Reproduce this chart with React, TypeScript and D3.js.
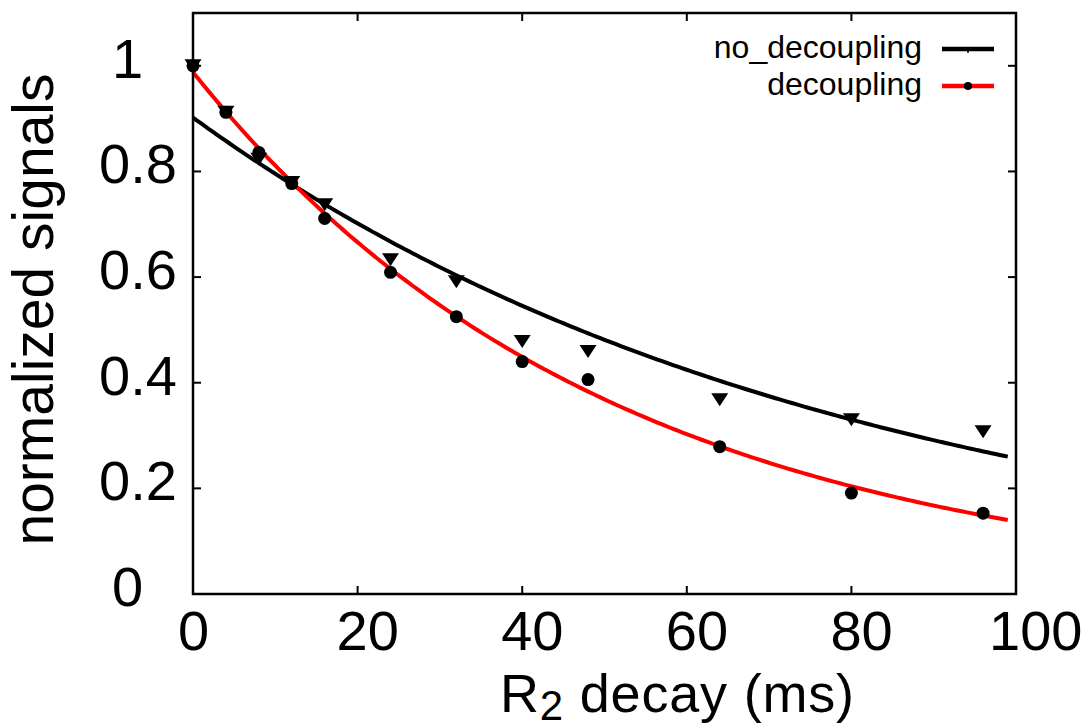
import React from "react";
import * as d3 from "d3";

const W = 1087;
const H = 725;

// data
const timesMs = [0, 4, 8, 12, 16, 24, 32, 40, 48, 64, 80, 96];
const noDecoupling = [1.0, 0.912, 0.823, 0.779, 0.737, 0.633, 0.591, 0.478, 0.459, 0.368, 0.33, 0.307];
const decoupling = [1.0, 0.912, 0.836, 0.777, 0.711, 0.609, 0.525, 0.44, 0.406, 0.279, 0.191, 0.153];
const xTicks = [0, 20, 40, 60, 80, 100];
const yTicks = [0, 0.2, 0.4, 0.6, 0.8, 1];
const yTickLabels = ["0", "0.2", "0.4", "0.6", "0.8", "1"];
const seriesNames = ["no_decoupling", "decoupling"];
// exponential fit parameters: amplitude, time constant (ms)
const fitNoDecoupling = { a: 0.902, tau: 79.6 };
const fitDecoupling = { a: 0.988, tau: 50.7 };
const fitRange = [0, 99];

const FONT = "'Liberation Sans', Arial, Helvetica, sans-serif";

export default function App() {
  const left = 193, right = 1016, top = 13, bottom = 594;
  const x = d3.scaleLinear().domain([0, 100]).range([left, right]);
  const y = d3.scaleLinear().domain([0, 1.1]).range([bottom, top]);

  const samples = d3.range(0, 201).map((i) => fitRange[0] + ((fitRange[1] - fitRange[0]) * i) / 200);
  const line = d3
    .line<[number, number]>()
    .x((d) => x(d[0]))
    .y((d) => y(d[1]));
  const blackPath = line(samples.map((t) => [t, fitNoDecoupling.a * Math.exp(-t / fitNoDecoupling.tau)]));
  const redPath = line(samples.map((t) => [t, fitDecoupling.a * Math.exp(-t / fitDecoupling.tau)]));

  const tri = (cx: number, cy: number, s = 8.5, h = 13) =>
    `M${cx - s},${cy - h / 2}L${cx + s},${cy - h / 2}L${cx},${cy + h / 2}Z`;

  const tickLen = 8;

  return (
    <svg
      width={W}
      height={H}
      style={{ position: "absolute", left: 0, top: 0, background: "#fff" }}
      fontFamily={FONT}
    >
      <rect x={0} y={0} width={W} height={H} fill="#fff" />
      {/* curves */}
      <path d={blackPath || ""} fill="none" stroke="#000" strokeWidth={4} />
      <path d={redPath || ""} fill="none" stroke="#ff0000" strokeWidth={4} />
      {/* markers */}
      {timesMs.map((t, i) => (
        <path key={"t" + i} d={tri(x(t), y(noDecoupling[i]))} fill="#000" />
      ))}
      {timesMs.map((t, i) => (
        <circle key={"c" + i} cx={x(t)} cy={y(decoupling[i])} r={6.5} fill="#000" />
      ))}
      {/* frame */}
      <rect x={left} y={top} width={right - left} height={bottom - top} fill="none" stroke="#000" strokeWidth={2.5} />
      {/* x ticks */}
      {xTicks.map((t) => {
        const n = String(t).length;
        return (
          <g key={"x" + t}>
            <line x1={x(t)} x2={x(t)} y1={bottom} y2={bottom - tickLen} stroke="#000" strokeWidth={2} />
            <line x1={x(t)} x2={x(t)} y1={top} y2={top + tickLen} stroke="#000" strokeWidth={2} />
            <text x={x(t) - 15 - 6 * (n - 1)} y={650} fontSize={56} textAnchor="start" fill="#000">
              {t}
            </text>
          </g>
        );
      })}
      {/* y ticks */}
      {yTicks.map((v, i) => {
        const lab = yTickLabels[i];
        return (
          <g key={"y" + v}>
            <line x1={left} x2={left + tickLen} y1={y(v)} y2={y(v)} stroke="#000" strokeWidth={2} />
            <line x1={right} x2={right - tickLen} y1={y(v)} y2={y(v)} stroke="#000" strokeWidth={2} />
            <text x={lab.length === 1 ? 112 : 99} y={y(v) + 12} fontSize={56} textAnchor="start" fill="#000">
              {lab}
            </text>
          </g>
        );
      })}
      {/* axis titles */}
      <text
        transform={`translate(53,${(top + bottom) / 2 + 6}) rotate(-90)`}
        fontSize={57}
        textAnchor="middle"
        fill="#000"
      >
        normalized signals
      </text>
      <text x={500} y={712} fontSize={54} textAnchor="start" letterSpacing={0.8} fill="#000">
        R<tspan fontSize={42} dy={8}>2</tspan>
        <tspan dy={-8}> decay (ms)</tspan>
      </text>
      {/* legend */}
      <text x={922} y={58} fontSize={32} textAnchor="end" fill="#000">
        {seriesNames[0]}
      </text>
      <line x1={942} x2={994} y1={49} y2={49} stroke="#000" strokeWidth={4.5} />
      <line x1={968} x2={968} y1={49} y2={53} stroke="#000" strokeWidth={1.5} />
      <text x={922} y={95} fontSize={32} textAnchor="end" fill="#000">
        {seriesNames[1]}
      </text>
      <line x1={942} x2={994} y1={86} y2={86} stroke="#ff0000" strokeWidth={4.5} />
      <circle cx={968} cy={86} r={4} fill="#000" />
    </svg>
  );
}
